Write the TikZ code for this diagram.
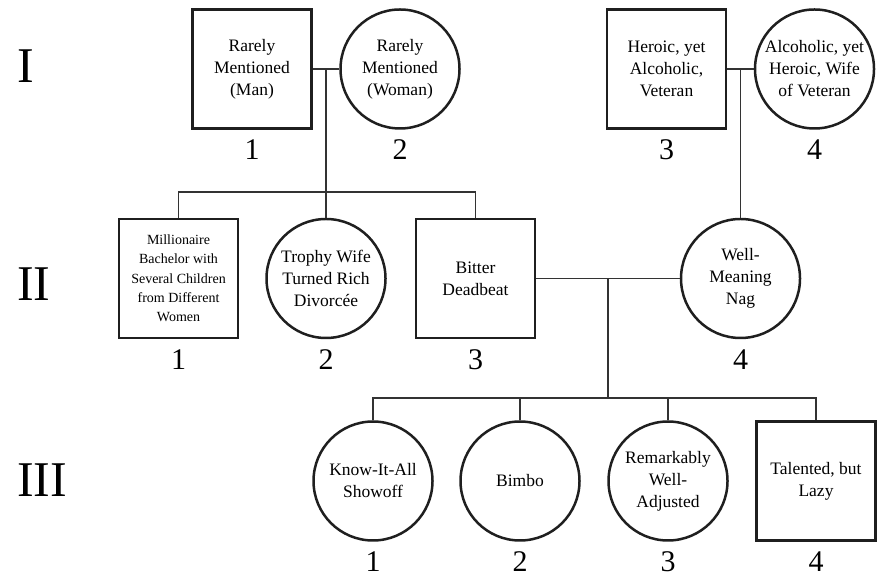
\documentclass[tikz,border=0pt]{standalone}
\usepackage{fontspec}
\setmainfont{Liberation Serif}
\usepackage{tikz}
\usetikzlibrary{positioning, calc}

\begin{document}
\begin{tikzpicture}[x=1pt, y=1pt, node distance=10pt]

\tikzset{
  male/.style={rectangle, draw=black!88, line width=2.5pt, minimum size=119pt, inner sep=2pt, align=center, font=\fontsize{17.5}{22}\selectfont},
  female/.style={circle, draw=black!88, line width=2.5pt, minimum size=119pt, inner sep=0pt, align=center, font=\fontsize{17.5}{22}\selectfont},
  num/.style={inner sep=0pt, font=\fontsize{30}{30}\selectfont},
  gen/.style={inner sep=0pt, anchor=west, font=\fontsize{50}{50}\selectfont},
  rel/.style={line width=1.3pt, draw=black!80}
}

\useasboundingbox (0,0) rectangle (882,577);

% Generation labels
\node[gen] (gen1) at (17,511) {I};
\node[gen] (gen2) at (17,293) {II};
\node[gen] (gen3) at (17,97) {III};

% Generation I
\node (man) [male] at (252,508) {Rarely\\Mentioned\\(Man)};
\node (woman) [female] at (400,508) {Rarely\\Mentioned\\(Woman)};
\node (hero) [male] at (666.5,508) {Heroic, yet\\Alcoholic,\\Veteran};
\node (wife) [female] at (814.5,508) {Alcoholic, yet\\Heroic, Wife\\of Veteran};

% Generation II
\node (millionaire) [male, font=\fontsize{14}{19.3}\selectfont] at (178.5,298.5) {Millionaire\\Bachelor with\\Several Children\\from Different\\Women};
\node (trophy) [female] at (326,298.5) {Trophy Wife\\Turned Rich\\Divorcée};
\node (bitter) [male] at (475.5,298.5) {Bitter\\Deadbeat};
\node (nag) [female] at (740.5,298.5) {Well-\\Meaning\\Nag};

% Generation III
\node (knowall) [female] at (373,96) {Know-It-All\\Showoff};
\node (bimbo) [female] at (520,96) {Bimbo};
\node (adjusted) [female] at (668,96) {Remarkably\\Well-\\Adjusted};
\node (lazy) [male] at (816,96) {Talented, but\\Lazy};

% Numbers
\node (man-n) [num, below=of man] {1};
\node (woman-n) [num, below=of woman] {2};
\node (hero-n) [num, below=of hero] {3};
\node (wife-n) [num, below=of wife] {4};
\node (millionaire-n) [num, below=of millionaire] {1};
\node (trophy-n) [num, below=of trophy] {2};
\node (bitter-n) [num, below=of bitter] {3};
\node (nag-n) [num, below=of nag] {4};
\node (knowall-n) [num, below=of knowall] {1};
\node (bimbo-n) [num, below=of bimbo] {2};
\node (adjusted-n) [num, below=of adjusted] {3};
\node (lazy-n) [num, below=of lazy] {4};

% Couples and descent lines
\draw [rel] (man) -- (woman);
\coordinate (m1) at ($(man.east)!0.5!(woman.west)$);
\coordinate (s1) at (m1 |- 0,385);
\draw [rel] (m1) -- (m1 |- trophy.north);
\draw [rel] (millionaire.north) |- (s1) -| (bitter.north);

\draw [rel] (hero) -- (wife);
\coordinate (m2) at ($(hero.east)!0.5!(wife.west)$);
\draw [rel] (m2) -- (m2 |- nag.north);

\draw [rel] (bitter) -- (nag);
\coordinate (m3) at ($(bitter.east)!0.5!(nag.west)$);
\coordinate (s3) at (m3 |- 0,179);
\draw [rel] (m3) -- (s3);
\draw [rel] (knowall.north) |- (s3) -| (lazy.north);
\draw [rel] (bimbo.north) -- (bimbo.north |- s3);
\draw [rel] (adjusted.north) -- (adjusted.north |- s3);

\end{tikzpicture}
\end{document}
